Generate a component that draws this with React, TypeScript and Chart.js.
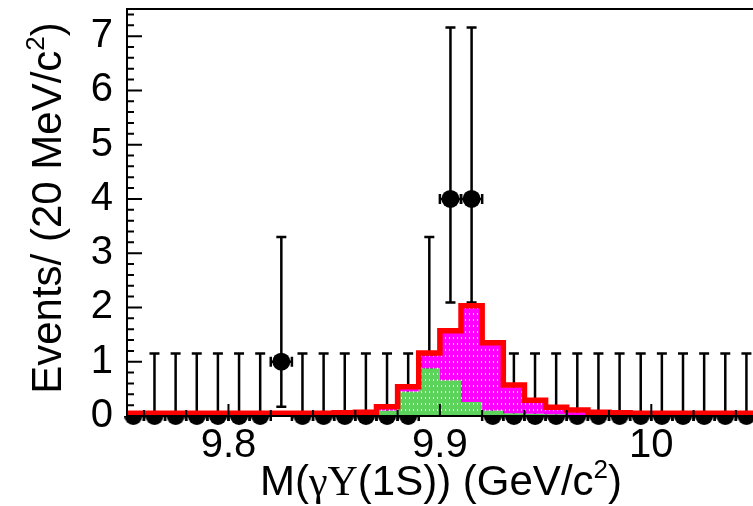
import React, { useEffect, useRef } from "react";
import { Chart, registerables } from "chart.js";

Chart.register(...registerables);

// Histogram binning in M(gamma Upsilon(1S)), GeV/c^2
const binEdges = [
  9.75, 9.76, 9.77, 9.78, 9.79, 9.8, 9.81, 9.82, 9.83, 9.84, 9.85, 9.86, 9.87, 9.88, 9.89, 9.9,
  9.91, 9.92, 9.93, 9.94, 9.95, 9.96, 9.97, 9.98, 9.99, 10.0, 10.01, 10.02, 10.03, 10.04, 10.05,
];
const binCenters = [
  9.755, 9.765, 9.775, 9.785, 9.795, 9.805, 9.815, 9.825, 9.835, 9.845, 9.855, 9.865, 9.875, 9.885,
  9.895, 9.905, 9.915, 9.925, 9.935, 9.945, 9.955, 9.965, 9.975, 9.985, 9.995, 10.005, 10.015,
  10.025, 10.035, 10.045,
];

// Observed events per bin with asymmetric Poisson errors
const dataCounts = [0, 0, 0, 0, 0, 0, 0, 1, 0, 0, 0, 0, 0, 0, 1, 4, 4, 0, 0, 0, 0, 0, 0, 0, 0, 0, 0, 0, 0, 0];
const errDown = [0, 0, 0, 0, 0, 0, 0, 0.83, 0, 0, 0, 0, 0, 0, 0.83, 1.91, 1.91, 0, 0, 0, 0, 0, 0, 0, 0, 0, 0, 0, 0, 0];
const errUp = [
  0, 1.15, 1.15, 1.15, 1.15, 1.15, 1.15, 2.3, 1.15, 1.15, 1.15, 1.15, 1.15, 1.15, 2.3, 3.16, 3.16,
  1.15, 1.15, 1.15, 1.15, 1.15, 1.15, 1.15, 1.15, 1.15, 1.15, 1.15, 1.15, 1.15,
];

// Fit components (stacked) and total fit
const greenComponent = [
  0, 0, 0, 0, 0, 0, 0, 0, 0, 0, 0, 0, 0.1, 0.45, 0.88, 0.66, 0.26, 0.1, 0.05, 0.04, 0.03, 0.02, 0.01,
  0, 0, 0, 0, 0, 0, 0,
];
const magentaComponent = [
  0, 0, 0, 0, 0, 0, 0, 0, 0, 0, 0, 0, 0.03, 0.05, 0.24, 0.87, 1.73, 1.21, 0.48, 0.21, 0.09, 0.05,
  0.02, 0, 0, 0, 0, 0, 0, 0,
];
const totalFit = [
  0.05, 0.05, 0.05, 0.05, 0.05, 0.05, 0.05, 0.05, 0.05, 0.05, 0.06, 0.07, 0.17, 0.54, 1.16, 1.57,
  2.03, 1.35, 0.57, 0.29, 0.16, 0.11, 0.07, 0.06, 0.05, 0.05, 0.05, 0.05, 0.05, 0.05,
];

const xTickValues = [9.8, 9.9, 10];
const xTickLabels = ["9.8", "9.9", "10"];
const yTickValues = [0, 1, 2, 3, 4, 5, 6, 7];
const yTickLabels = ["0", "1", "2", "3", "4", "5", "6", "7"];

const X_MIN = 9.752;
const X_MAX = 10.05;
const Y_MIN = 0;
const Y_MAX = 7.5;
const BIN_HALF = 0.005;
const X_MINOR_STEP = 0.02;
const Y_MINOR_STEP = 0.2;

const SANS = "'Liberation Sans', Arial, Helvetica, sans-serif";
const SERIF = "'Liberation Serif', 'Times New Roman', serif";
const FONT_PX = 40;
const TITLE_PX = 42;

function stepSeries(values: number[]) {
  return binEdges.map((e, i) => ({ x: e, y: values[Math.min(i, values.length - 1)] }));
}

function dottedFill(base: string): CanvasPattern | string {
  const tile = document.createElement("canvas");
  tile.width = 4;
  tile.height = 6;
  const t = tile.getContext("2d");
  if (!t) return base;
  t.fillStyle = base;
  t.fillRect(0, 0, 4, 6);
  t.fillStyle = "rgba(255,255,255,0.85)";
  t.fillRect(1, 1, 1, 2);
  return t.createPattern(tile, "repeat") || base;
}

function halfDot(r: number) {
  const c = document.createElement("canvas");
  c.width = 2 * r;
  c.height = 2 * r;
  const g = c.getContext("2d");
  if (g) {
    g.fillStyle = "#000";
    g.beginPath();
    g.arc(r, r, r, 0, Math.PI);
    g.closePath();
    g.fill();
  }
  return c;
}

// Vertical (Poisson) and horizontal (bin width) error bars with end caps
const errorBarPlugin = {
  id: "errorBars",
  beforeDatasetsDraw(chart: any) {
    const { ctx, chartArea } = chart;
    const xs = chart.scales.x;
    const ys = chart.scales.y;
    ctx.save();
    ctx.beginPath();
    ctx.rect(chartArea.left, 0, chart.width - chartArea.left, chart.height);
    ctx.clip();
    ctx.strokeStyle = "#000";
    ctx.lineWidth = 2.5;
    ctx.lineCap = "butt";
    const cap = 5;
    binCenters.forEach((c, i) => {
      const px = xs.getPixelForValue(c);
      const v = dataCounts[i];
      const py = ys.getPixelForValue(v);
      ctx.beginPath();
      if (errUp[i] > 0) {
        const top = ys.getPixelForValue(v + errUp[i]);
        ctx.moveTo(px, py);
        ctx.lineTo(px, top);
        ctx.moveTo(px - cap, top);
        ctx.lineTo(px + cap, top);
      }
      if (errDown[i] > 0) {
        const bot = ys.getPixelForValue(v - errDown[i]);
        ctx.moveTo(px, py);
        ctx.lineTo(px, bot);
        ctx.moveTo(px - cap, bot);
        ctx.lineTo(px + cap, bot);
      }
      const xl = xs.getPixelForValue(c - BIN_HALF);
      const xr = xs.getPixelForValue(c + BIN_HALF);
      ctx.moveTo(xl, py);
      ctx.lineTo(xr, py);
      ctx.moveTo(xl, py - cap);
      ctx.lineTo(xl, py + cap);
      ctx.moveTo(xr, py - cap);
      ctx.lineTo(xr, py + cap);
      ctx.stroke();
    });
    ctx.restore();
  },
};

// Frame lines and inward tick marks
const framePlugin = {
  id: "frame",
  afterDatasetsDraw(chart: any) {
    const { ctx, chartArea } = chart;
    const xs = chart.scales.x;
    const ys = chart.scales.y;
    const { left, top, bottom } = chartArea;
    ctx.save();
    ctx.strokeStyle = "#000";
    ctx.lineWidth = 2;
    ctx.beginPath();
    ctx.moveTo(left, bottom);
    ctx.lineTo(left, top);
    ctx.lineTo(chart.width, top);
    ctx.moveTo(left, bottom);
    ctx.lineTo(chart.width, bottom);
    ctx.stroke();

    ctx.beginPath();
    // y ticks
    for (let v = Y_MIN; v <= Y_MAX + 1e-9; v += Y_MINOR_STEP) {
      const py = ys.getPixelForValue(v);
      const major = yTickValues.some((t) => Math.abs(t - v) < 1e-6);
      ctx.moveTo(left, py);
      ctx.lineTo(left + (major ? 15 : 7), py);
    }
    // x ticks
    for (let v = 9.76; v <= X_MAX + 1e-9; v += X_MINOR_STEP) {
      const px = xs.getPixelForValue(v);
      ctx.moveTo(px, bottom);
      ctx.lineTo(px, bottom - 6);
    }
    xTickValues.forEach((v) => {
      const px = xs.getPixelForValue(v);
      ctx.moveTo(px, bottom);
      ctx.lineTo(px, bottom - 12);
    });
    ctx.stroke();
    ctx.restore();
  },
};

type Part = { t: string; font: string; dy?: number };

function drawParts(ctx: CanvasRenderingContext2D, parts: Part[], cx: number, baseline: number) {
  let total = 0;
  const widths = parts.map((p) => {
    ctx.font = p.font;
    const w = ctx.measureText(p.t).width;
    total += w;
    return w;
  });
  let x = cx - total / 2;
  ctx.textAlign = "left";
  ctx.textBaseline = "alphabetic";
  parts.forEach((p, i) => {
    ctx.font = p.font;
    ctx.fillText(p.t, x, baseline + (p.dy || 0));
    x += widths[i];
  });
}

// Axis titles with superscripts and Greek letters
const titlePlugin = {
  id: "axisTitles",
  afterDraw(chart: any) {
    const ctx: CanvasRenderingContext2D = chart.ctx;
    const main = `${TITLE_PX}px ${SANS}`;
    const greek = `${TITLE_PX}px ${SERIF}`;
    const sup = `${Math.round(TITLE_PX * 0.62)}px ${SANS}`;
    ctx.save();
    ctx.fillStyle = "#000";
    drawParts(
      ctx,
      [
        { t: "M(", font: main },
        { t: "γ", font: greek },
        { t: "Υ", font: greek },
        { t: "(1S)) (GeV/c", font: main },
        { t: "2", font: sup, dy: -17 },
        { t: ")", font: main },
      ],
      441,
      495
    );
    ctx.translate(61, 208);
    ctx.rotate(-Math.PI / 2);
    drawParts(
      ctx,
      [
        { t: "Events/ (20 MeV/c", font: main },
        { t: "2", font: sup, dy: -17 },
        { t: ")", font: main },
      ],
      0,
      0
    );
    ctx.restore();
  },
};

export default function App() {
  const canvasRef = useRef<HTMLCanvasElement | null>(null);

  useEffect(() => {
    const canvas = canvasRef.current;
    if (!canvas) return;
    const zeroDot = halfDot(9);
    const stacked = greenComponent.map((g, i) => g + magentaComponent[i]);

    const chart = new Chart(canvas, {
      type: "scatter",
      data: {
        datasets: [
          {
            type: "line",
            label: "total",
            data: stepSeries(totalFit),
            borderColor: "#ff0000",
            borderWidth: 5.5,
            borderJoinStyle: "miter",
            borderCapStyle: "butt",
            stepped: "before",
            pointRadius: 0,
            fill: false,
            showLine: true,
          } as any,
          {
            type: "line",
            label: "magenta",
            data: stepSeries(stacked),
            borderColor: "rgba(0,0,0,0)",
            borderWidth: 0,
            backgroundColor: dottedFill("#ff00ff"),
            stepped: "before",
            pointRadius: 0,
            fill: "+1",
            showLine: true,
          } as any,
          {
            type: "line",
            label: "green",
            data: stepSeries(greenComponent),
            borderColor: "rgba(0,0,0,0)",
            borderWidth: 0,
            backgroundColor: dottedFill("#5cd45c"),
            stepped: "before",
            pointRadius: 0,
            fill: "origin",
            showLine: true,
          } as any,
          {
            type: "scatter",
            label: "data",
            data: binCenters.map((c, i) => ({ x: c, y: dataCounts[i] })),
            backgroundColor: "#000",
            borderWidth: 0,
            pointRadius: 9,
            pointStyle: (ctx: any) => (ctx.raw && ctx.raw.y === 0 ? zeroDot : "circle"),
            clip: false,
          } as any,
        ],
      },
      options: {
        responsive: false,
        animation: false,
        events: [],
        layout: { padding: { left: 0, top: 9, right: 13, bottom: 0 } },
        plugins: { legend: { display: false }, tooltip: { enabled: false } },
        scales: {
          x: {
            type: "linear",
            min: X_MIN,
            max: X_MAX,
            grid: { display: false, drawTicks: false },
            border: { display: false },
            ticks: {
              color: "#000",
              font: { family: SANS, size: FONT_PX },
              padding: 6,
              maxRotation: 0,
              autoSkip: false,
              callback: (_v: any, i: number) => xTickLabels[i],
            },
            afterBuildTicks: (s: any) => {
              s.ticks = xTickValues.map((v) => ({ value: v }));
            },
            afterFit: (s: any) => {
              s.height = 90;
              s.paddingLeft = 0;
              s.paddingRight = 0;
            },
          },
          y: {
            type: "linear",
            min: Y_MIN,
            max: Y_MAX,
            grid: { display: false, drawTicks: false },
            border: { display: false },
            ticks: {
              color: "#000",
              font: { family: SANS, size: FONT_PX },
              padding: 14,
              autoSkip: false,
              callback: (_v: any, i: number) => yTickLabels[i],
            },
            afterBuildTicks: (s: any) => {
              s.ticks = yTickValues.map((v) => ({ value: v }));
            },
            afterFit: (s: any) => {
              s.width = 127;
              s.paddingTop = 0;
              s.paddingBottom = 0;
            },
          },
        },
      } as any,
      plugins: [errorBarPlugin, framePlugin, titlePlugin],
    });

    return () => chart.destroy();
  }, []);

  return (
    <div
      style={{
        position: "absolute",
        left: 0,
        top: 0,
        width: 753,
        height: 506,
        overflow: "hidden",
        background: "#fff",
      }}
    >
      <canvas ref={canvasRef} width={770} height={506} style={{ width: 770, height: 506, display: "block" }} />
    </div>
  );
}
